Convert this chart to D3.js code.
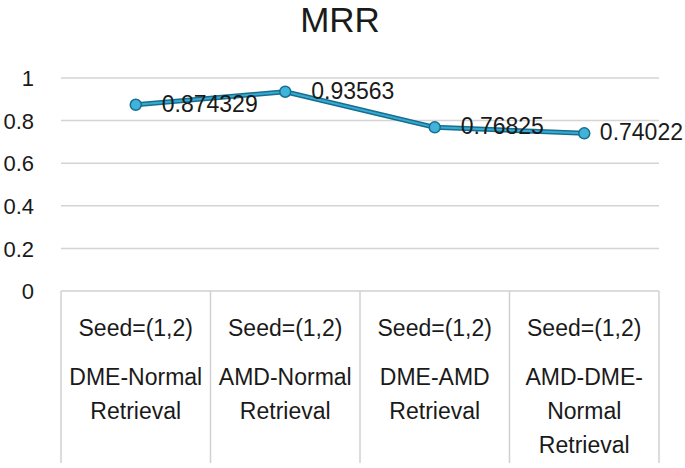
<!DOCTYPE html>
<html>
<head>
<meta charset="utf-8">
<script src="https://cdn.jsdelivr.net/npm/d3@7"></script>
<style>
  html, body { margin: 0; padding: 0; background: #fff; }
  svg { display: block; }
  text { font-family: "Liberation Sans", Arial, sans-serif; fill: #1a1a1a; }
</style>
</head>
<body>
<svg id="chart" width="685" height="468"></svg>
<script>
const title = "MRR";
const seedLabels = ["Seed=(1,2)", "Seed=(1,2)", "Seed=(1,2)", "Seed=(1,2)"];
const categoryLines = [
  ["DME-Normal", "Retrieval"],
  ["AMD-Normal", "Retrieval"],
  ["DME-AMD", "Retrieval"],
  ["AMD-DME-", "Normal", "Retrieval"]
];
const mrrValues = [0.874329, 0.93563, 0.76825, 0.74022];
const valueLabels = ["0.874329", "0.93563", "0.76825", "0.74022"];
const yTicks = [0, 0.2, 0.4, 0.6, 0.8, 1];
const yTickLabels = ["0", "0.2", "0.4", "0.6", "0.8", "1"];

const W = 685, H = 468;
const plot = { left: 61, right: 659, top: 78, bottom: 291 };
const svg = d3.select("#chart");

const x = d3.scaleBand().domain(d3.range(mrrValues.length)).range([plot.left, plot.right]);
const y = d3.scaleLinear().domain([0, 1]).range([plot.bottom, plot.top]);

// title
svg.append("text").attr("x", 340).attr("y", 32).attr("text-anchor", "middle")
  .style("font-size", "35px").text(title);

// gridlines
svg.append("g").selectAll("line").data(yTicks.filter(d => d > 0)).join("line")
  .attr("x1", plot.left).attr("x2", plot.right)
  .attr("y1", d => y(d)).attr("y2", d => y(d))
  .attr("stroke", "#d4d4d4").attr("stroke-width", 1.5);

// y axis labels
const yAxis = d3.axisLeft(y).tickValues(yTicks).tickFormat((d, i) => yTickLabels[i]).tickSize(0).tickPadding(0);
const gy = svg.append("g").attr("transform", "translate(34,0)").call(yAxis);
gy.select(".domain").remove();
gy.selectAll("text").style("font-size", "22px").style("font-family", "'Liberation Sans', Arial, sans-serif")
  .attr("fill", "#1a1a1a").attr("dy", "0.35em");

// category table
const tableBottom = 463;
const tbl = svg.append("g").attr("stroke", "#d0d0d0").attr("stroke-width", 1.5);
tbl.append("line").attr("x1", plot.left).attr("x2", plot.right).attr("y1", y(0)).attr("y2", y(0));
const bounds = x.domain().map(i => x(i)).concat([plot.right]);
tbl.selectAll("line.v").data(bounds).join("line").attr("class", "v")
  .attr("x1", d => d).attr("x2", d => d).attr("y1", y(0)).attr("y2", tableBottom);

const cats = svg.append("g");
cats.selectAll("text.seed").data(seedLabels).join("text").attr("class", "seed")
  .attr("x", (d, i) => x(i) + x.bandwidth() / 2).attr("y", 328).attr("dy", "0.35em")
  .attr("text-anchor", "middle").style("font-size", "23px").text(d => d);
categoryLines.forEach((lines, i) => {
  cats.selectAll(null).data(lines).join("text")
    .attr("x", x(i) + x.bandwidth() / 2).attr("y", (d, j) => 377 + j * 34).attr("dy", "0.35em")
    .attr("text-anchor", "middle").style("font-size", "23px").text(d => d);
});

// line
const pts = mrrValues.map((v, i) => [x(i) + x.bandwidth() / 2, y(v)]);
const line = d3.line();
svg.append("path").attr("d", line(pts)).attr("fill", "none")
  .attr("stroke", "#176f8f").attr("stroke-width", 5).attr("stroke-linejoin", "round");
svg.append("path").attr("d", line(pts)).attr("fill", "none")
  .attr("stroke", "#36aad2").attr("stroke-width", 2).attr("stroke-linejoin", "round");
svg.append("g").selectAll("circle").data(pts).join("circle")
  .attr("cx", d => d[0]).attr("cy", d => d[1]).attr("r", 5.5)
  .attr("fill", "#3fb3da").attr("stroke", "#176f8f").attr("stroke-width", 1.5);

// data labels
const lbl = svg.append("g").selectAll("text").data(valueLabels).join("text")
  .style("font-size", "23px").attr("dy", "0.35em")
  .attr("y", (d, i) => pts[i][1] - 1)
  .text(d => d);
lbl.each(function(d, i) {
  const w = this.getComputedTextLength();
  const lx = Math.min(pts[i][0] + 26, W - 2 - w);
  d3.select(this).attr("x", lx);
});
</script>
</body>
</html>
